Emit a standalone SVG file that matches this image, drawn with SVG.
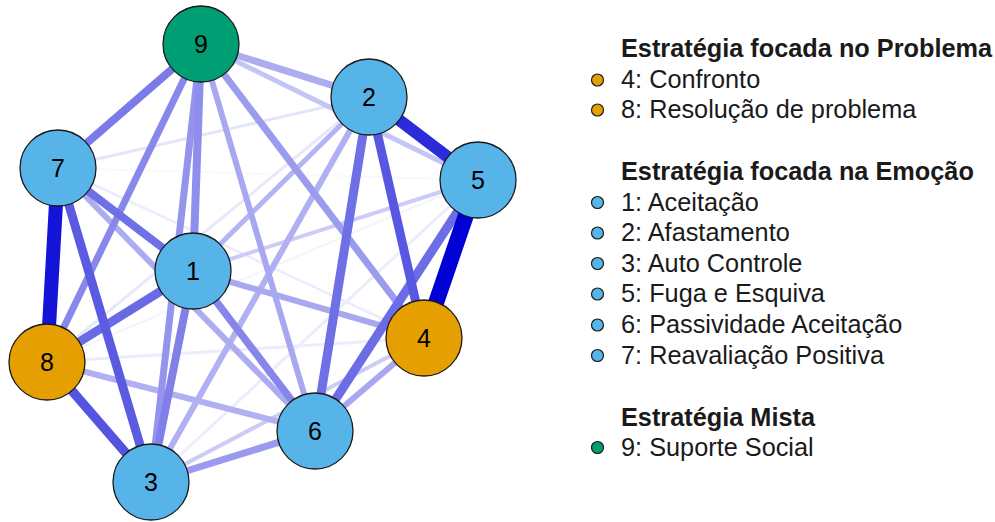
<svg xmlns="http://www.w3.org/2000/svg" width="995" height="522" viewBox="0 0 995 522">
<style>
.e{fill:none;stroke-linecap:butt}
.n{stroke:#1a1a1a;stroke-width:1.3}
.b{fill:#56b4e9}.o{fill:#e69f00}.g{fill:#009e73}
.nl{font-family:"Liberation Sans",Arial,sans-serif;font-size:25px;fill:#000;text-anchor:middle}
.t{font-family:"Liberation Sans",Arial,sans-serif;font-size:25.3px;fill:#1a1a1a}
.h{font-weight:bold}
.lc{stroke:#1a1a1a;stroke-width:1.2}
</style>
<rect width="995" height="522" fill="#fff"/>
<g id="connectors" class="e">
<line x1="478" y1="180" x2="58" y2="168" stroke="#f8f8ff" stroke-width="1.5"/>
<line x1="478" y1="180" x2="47" y2="362" stroke="#f4f4fe" stroke-width="2"/>
<line x1="424" y1="338" x2="58" y2="168" stroke="#ececfd" stroke-width="2.5"/>
<line x1="424" y1="338" x2="47" y2="362" stroke="#ececfd" stroke-width="3"/>
<line x1="151" y1="482" x2="478" y2="180" stroke="#ececfd" stroke-width="3"/>
<line x1="369" y1="97" x2="47" y2="362" stroke="#e8e8fc" stroke-width="3"/>
<line x1="369" y1="97" x2="58" y2="168" stroke="#e4e4fb" stroke-width="3"/>
<line x1="151" y1="482" x2="424" y2="338" stroke="#ccccf7" stroke-width="4"/>
<line x1="193" y1="271" x2="478" y2="180" stroke="#ccccf7" stroke-width="4"/>
<line x1="201" y1="44" x2="478" y2="180" stroke="#c4c4f6" stroke-width="5"/>
<line x1="193" y1="271" x2="369" y2="97" stroke="#b4b4f2" stroke-width="5"/>
<line x1="424" y1="338" x2="315" y2="431" stroke="#a8a8f0" stroke-width="6"/>
<line x1="151" y1="482" x2="369" y2="97" stroke="#b0b0f2" stroke-width="6"/>
<line x1="193" y1="271" x2="424" y2="338" stroke="#a8a8f0" stroke-width="6"/>
<line x1="47" y1="362" x2="315" y2="431" stroke="#b0b0f2" stroke-width="6"/>
<line x1="58" y1="168" x2="315" y2="431" stroke="#acacf0" stroke-width="6"/>
<line x1="201" y1="44" x2="369" y2="97" stroke="#acacf0" stroke-width="7"/>
<line x1="201" y1="44" x2="315" y2="431" stroke="#a8a8f0" stroke-width="6"/>
<line x1="151" y1="482" x2="315" y2="431" stroke="#9a9aee" stroke-width="7"/>
<line x1="201" y1="44" x2="424" y2="338" stroke="#9c9cee" stroke-width="7"/>
<line x1="201" y1="44" x2="151" y2="482" stroke="#9494ed" stroke-width="7"/>
<line x1="201" y1="44" x2="193" y2="271" stroke="#8e8eec" stroke-width="8"/>
<line x1="201" y1="44" x2="47" y2="362" stroke="#8888ea" stroke-width="7"/>
<line x1="193" y1="271" x2="315" y2="431" stroke="#8686ea" stroke-width="7.5"/>
<line x1="193" y1="271" x2="151" y2="482" stroke="#8080e8" stroke-width="8"/>
<line x1="201" y1="44" x2="58" y2="168" stroke="#7a7ae8" stroke-width="8"/>
<line x1="193" y1="271" x2="58" y2="168" stroke="#7070e6" stroke-width="8"/>
<line x1="369" y1="97" x2="315" y2="431" stroke="#7070e6" stroke-width="9"/>
<line x1="478" y1="180" x2="315" y2="431" stroke="#6c6ce6" stroke-width="9"/>
<line x1="193" y1="271" x2="47" y2="362" stroke="#6a6ae4" stroke-width="9"/>
<line x1="58" y1="168" x2="151" y2="482" stroke="#5b5be2" stroke-width="9"/>
<line x1="47" y1="362" x2="151" y2="482" stroke="#5454e1" stroke-width="9.5"/>
<line x1="369" y1="97" x2="424" y2="338" stroke="#5757e2" stroke-width="9"/>
<line x1="369" y1="97" x2="478" y2="180" stroke="#2b2bdc" stroke-width="12"/>
<line x1="58" y1="168" x2="47" y2="362" stroke="#1414d8" stroke-width="14"/>
<line x1="478" y1="180" x2="424" y2="338" stroke="#0000d6" stroke-width="16"/>
</g>
<g id="node9"><circle class="n g" cx="201" cy="44" r="38"/><text class="nl" x="201" y="53">9</text></g>
<g id="node2"><circle class="n b" cx="369" cy="97" r="38"/><text class="nl" x="369" y="106">2</text></g>
<g id="node7"><circle class="n b" cx="58" cy="168" r="38"/><text class="nl" x="58" y="177">7</text></g>
<g id="node5"><circle class="n b" cx="478" cy="180" r="38"/><text class="nl" x="478" y="189">5</text></g>
<g id="node1"><circle class="n b" cx="193" cy="271" r="38"/><text class="nl" x="193" y="280">1</text></g>
<g id="node8"><circle class="n o" cx="47" cy="362" r="38"/><text class="nl" x="47" y="371">8</text></g>
<g id="node4"><circle class="n o" cx="424" cy="338" r="38"/><text class="nl" x="424" y="347">4</text></g>
<g id="node6"><circle class="n b" cx="315" cy="431" r="38"/><text class="nl" x="315" y="440">6</text></g>
<g id="node3"><circle class="n b" cx="151" cy="482" r="38"/><text class="nl" x="151" y="491">3</text></g>
<g id="legend">
<text class="t h" x="621" y="57">Estratégia focada no Problema</text>
<circle class="lc o" cx="597.5" cy="80" r="6"/><text class="t" x="621" y="88">4: Confronto</text>
<circle class="lc o" cx="597.5" cy="110" r="6"/><text class="t" x="621" y="118">8: Resolução de problema</text>
<text class="t h" x="621" y="180">Estratégia focada na Emoção</text>
<circle class="lc b" cx="597.5" cy="202.5" r="6"/><text class="t" x="621" y="211">1: Aceitação</text>
<circle class="lc b" cx="597.5" cy="233" r="6"/><text class="t" x="621" y="241">2: Afastamento</text>
<circle class="lc b" cx="597.5" cy="263.5" r="6"/><text class="t" x="621" y="272">3: Auto Controle</text>
<circle class="lc b" cx="597.5" cy="294" r="6"/><text class="t" x="621" y="302">5: Fuga e Esquiva</text>
<circle class="lc b" cx="597.5" cy="325" r="6"/><text class="t" x="621" y="333">6: Passividade Aceitação</text>
<circle class="lc b" cx="597.5" cy="355.5" r="6"/><text class="t" x="621" y="364">7: Reavaliação Positiva</text>
<text class="t h" x="621" y="426">Estratégia Mista</text>
<circle class="lc g" cx="597.5" cy="447.5" r="6"/><text class="t" x="621" y="456">9: Suporte Social</text>
</g>
</svg>
